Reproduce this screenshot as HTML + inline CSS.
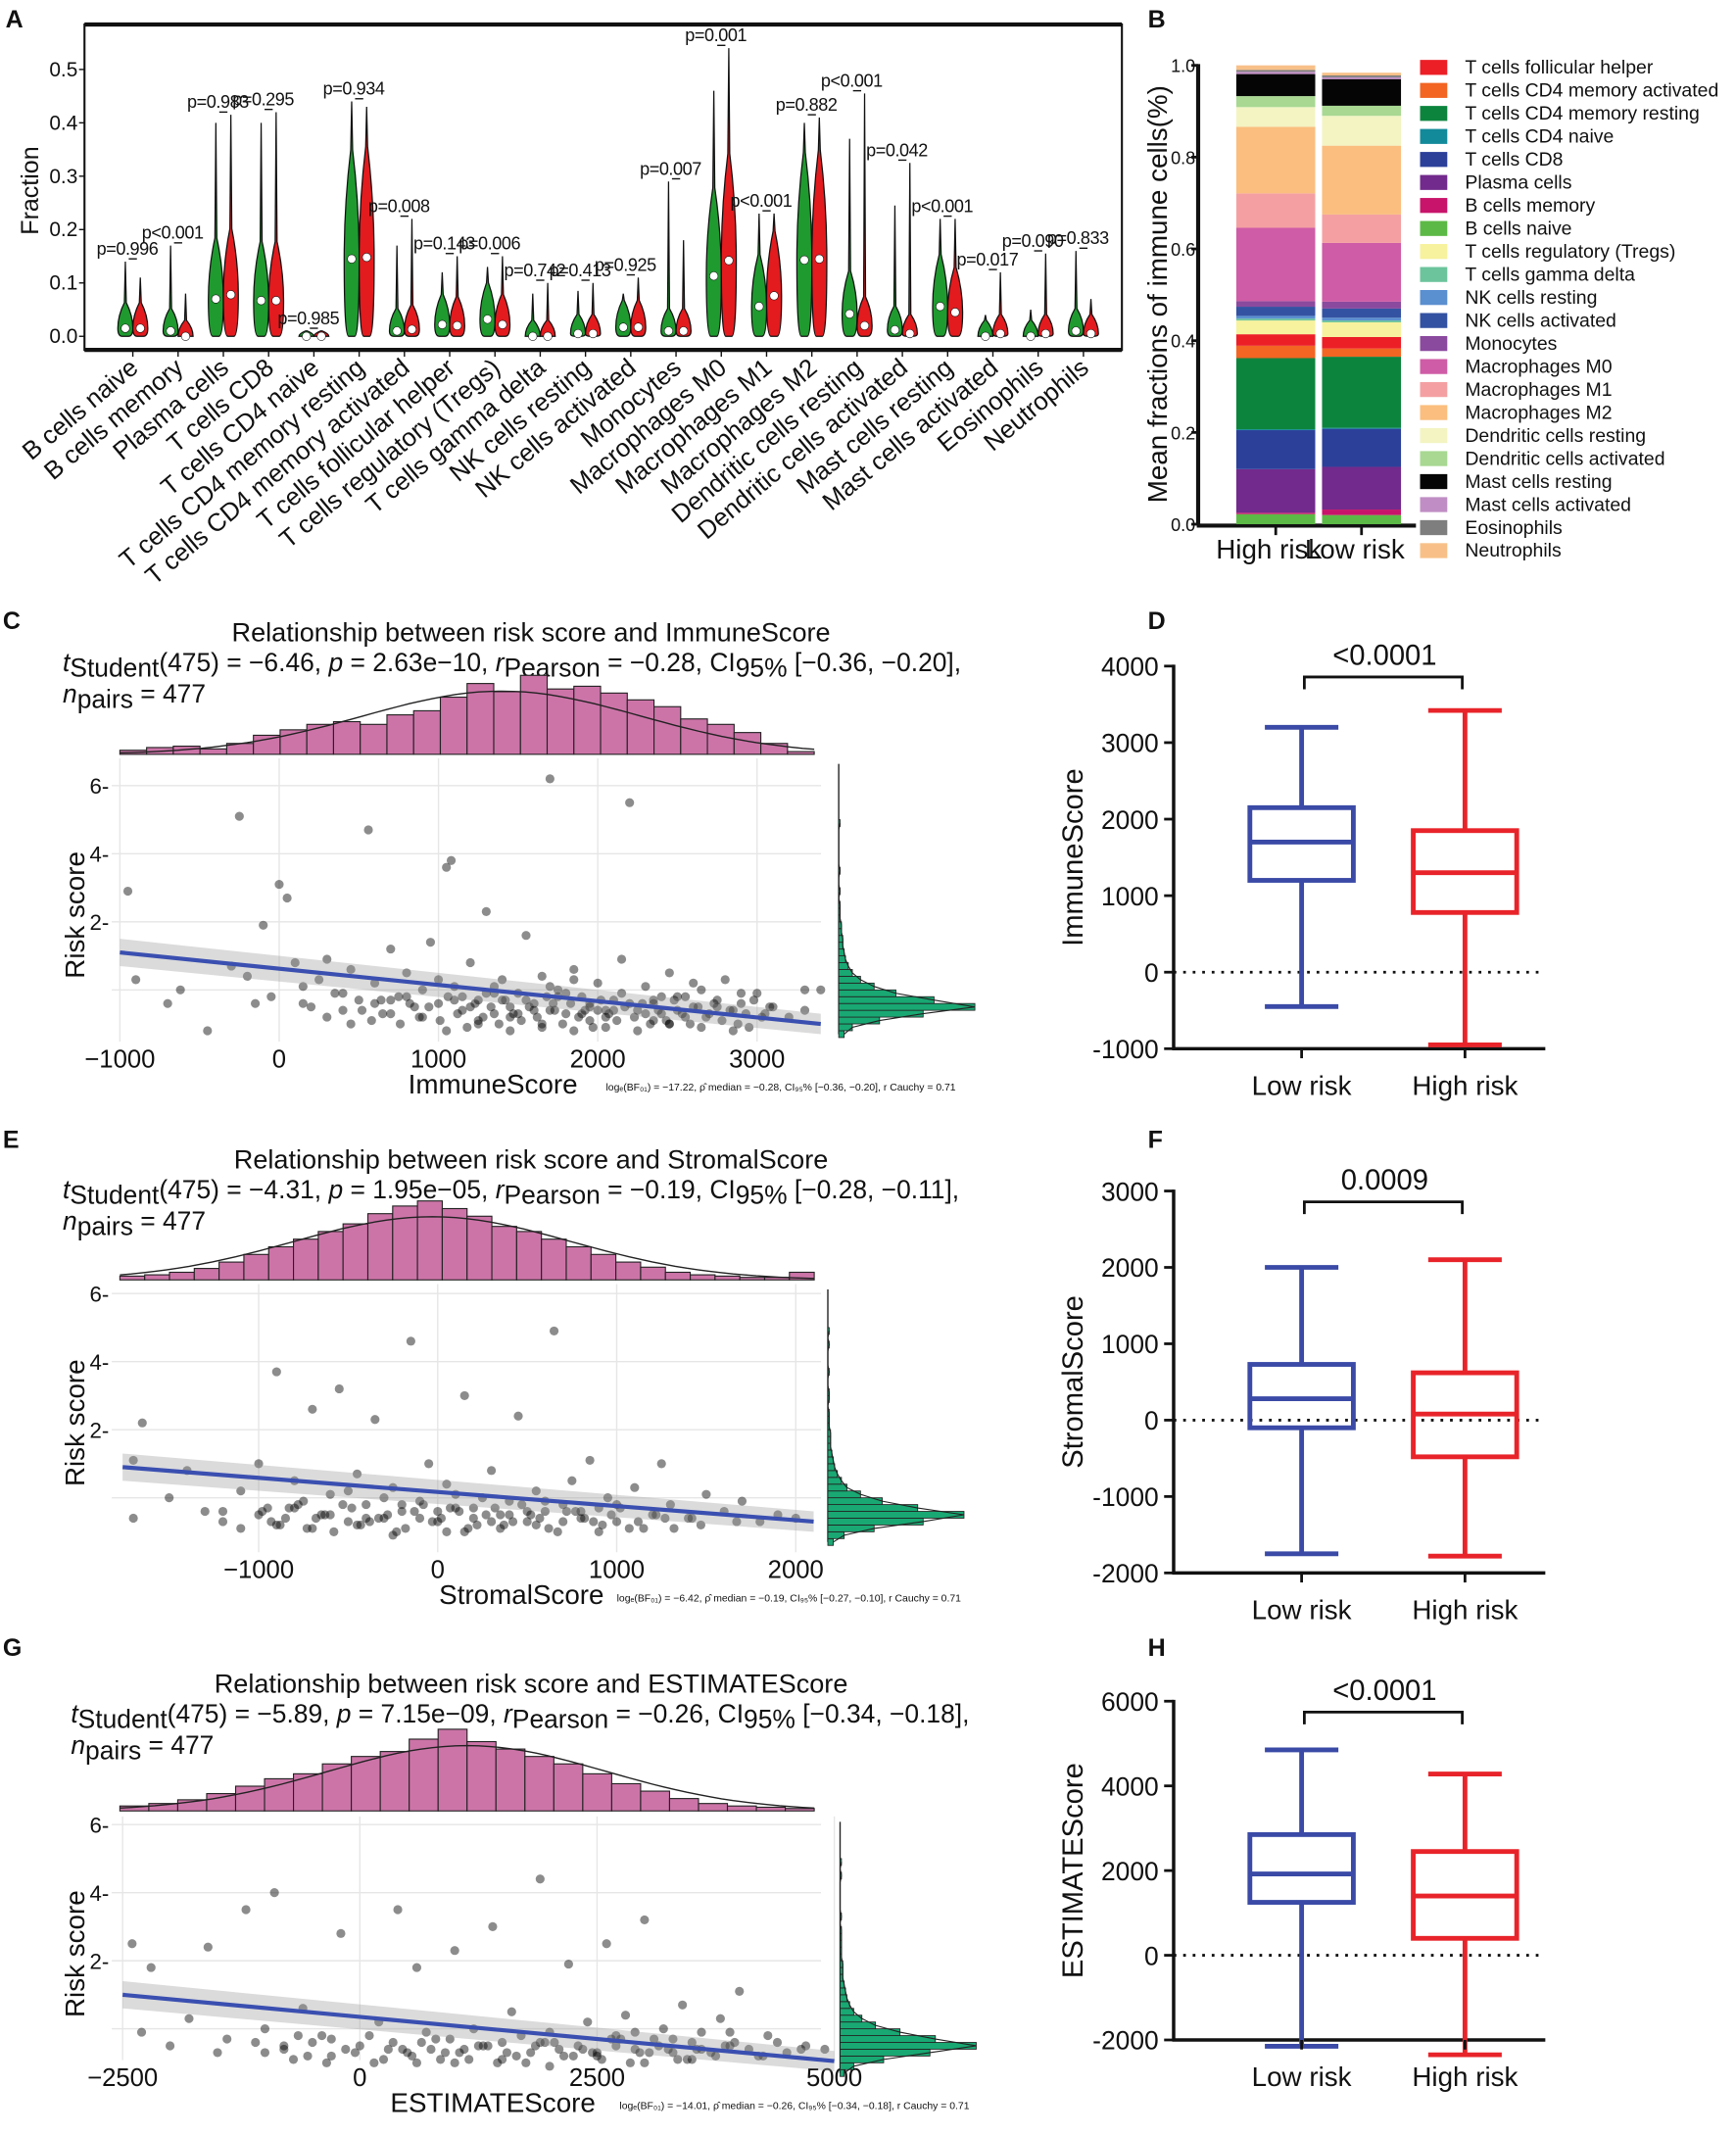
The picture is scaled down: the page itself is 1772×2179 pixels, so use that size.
<!DOCTYPE html>
<html><head><meta charset="utf-8"><style>
html,body{margin:0;padding:0;background:#fff}
svg{display:block}
text{font-family:"Liberation Sans",Arial,sans-serif;fill:#111}
</style></head><body>
<svg id="fig" xmlns="http://www.w3.org/2000/svg" width="1772" height="2179" viewBox="0 0 1275 1568">
<g font-weight="bold" font-size="18">
<text x="4" y="20">A</text>
<text x="843" y="20">B</text>
<text x="2" y="462">C</text>
<text x="843" y="462">D</text>
<text x="2" y="843">E</text>
<text x="843" y="843">F</text>
<text x="2" y="1216">G</text>
<text x="843" y="1216">H</text>
</g>
</svg>
<script>
// ---------- Panel A data ----------
const cellTypes = ["B cells naive","B cells memory","Plasma cells","T cells CD8","T cells CD4 naive","T cells CD4 memory resting","T cells CD4 memory activated","T cells follicular helper","T cells regulatory (Tregs)","T cells gamma delta","NK cells resting","NK cells activated","Monocytes","Macrophages M0","Macrophages M1","Macrophages M2","Dendritic cells resting","Dendritic cells activated","Mast cells resting","Mast cells activated","Eosinophils","Neutrophils"];
const lowMax = [0.14,0.17,0.40,0.40,0.01,0.44,0.17,0.12,0.13,0.08,0.085,0.08,0.29,0.46,0.23,0.40,0.37,0.245,0.22,0.04,0.05,0.16];
const lowMed = [0.015,0.01,0.07,0.067,0,0.145,0.01,0.022,0.032,0,0.005,0.017,0.01,0.113,0.056,0.143,0.042,0.012,0.056,0,0,0.01];
const highMax = [0.11,0.08,0.415,0.42,0.01,0.43,0.22,0.15,0.15,0.10,0.10,0.11,0.18,0.54,0.23,0.41,0.455,0.325,0.22,0.12,0.155,0.07];
const highMed = [0.015,0,0.078,0.067,0,0.148,0.013,0.02,0.022,0,0.005,0.017,0.01,0.142,0.076,0.145,0.02,0.005,0.045,0.005,0.005,0.005];
const pLabels = ["p=0.996","p<0.001","p=0.983","p=0.295","p=0.985","p=0.934","p=0.008","p=0.143","p=0.006","p=0.742","p=0.413","p=0.925","p=0.007","p=0.001","p<0.001","p=0.882","p<0.001","p=0.042","p<0.001","p=0.017","p=0.090","p=0.833"];
const fracTicks = [0,0.1,0.2,0.3,0.4,0.5];

// ---------- Panel B data ----------
const stackNames = ["B cells naive","B cells memory","Plasma cells","T cells CD8","T cells CD4 naive","T cells CD4 memory resting","T cells CD4 memory activated","T cells follicular helper","T cells regulatory (Tregs)","T cells gamma delta","NK cells resting","NK cells activated","Monocytes","Macrophages M0","Macrophages M1","Macrophages M2","Dendritic cells resting","Dendritic cells activated","Mast cells resting","Mast cells activated","Eosinophils","Neutrophils"];
const stackColors = ["#5cb946","#c8146a","#722a8c","#2c409a","#128a9a","#0d843e","#f26522","#ec1f27","#f7f29d","#6cc49c","#5a8fd0","#3452a2","#8a4a9e","#cf5ca6","#f4a0a2","#fbbe7e","#f3f4c2","#a8d892","#050505","#c08ec4","#7e7e7e","#f8c088"];
const highRiskFrac = [0.022,0.003,0.095,0.085,0.002,0.155,0.027,0.025,0.030,0.004,0.006,0.02,0.012,0.16,0.075,0.145,0.043,0.024,0.048,0.005,0.004,0.010];
const lowRiskFrac  = [0.020,0.012,0.093,0.083,0.002,0.155,0.018,0.025,0.032,0.004,0.006,0.02,0.015,0.128,0.062,0.150,0.065,0.022,0.058,0.004,0.004,0.006];
const legendOrder = ["T cells follicular helper","T cells CD4 memory activated","T cells CD4 memory resting","T cells CD4 naive","T cells CD8","Plasma cells","B cells memory","B cells naive","T cells regulatory (Tregs)","T cells gamma delta","NK cells resting","NK cells activated","Monocytes","Macrophages M0","Macrophages M1","Macrophages M2","Dendritic cells resting","Dendritic cells activated","Mast cells resting","Mast cells activated","Eosinophils","Neutrophils"];
const bTicks = [0,0.2,0.4,0.6,0.8,1.0];

// ---------- Scatter data ----------
const immuneX = [-950,-900,-700,-620,-450,-300,-250,-200,-150,-100,0,50,100,150,200,250,300,350,400,450,500,560,600,650,700,750,800,850,900,950,1000,1050,1080,1100,1150,1200,1250,1300,1350,1400,1450,1500,1550,1600,1650,1700,1720,1750,1800,1850,1900,1950,2000,2050,2100,2150,2200,2250,2300,2350,2400,2450,2500,2550,2600,2650,2700,2750,2800,2850,2900,2950,3000,3050,3100,3200,3300,3400,1200,1400,1600,1800,2000,2200,2400,1300,1500,1700,1900,2100,2300,2500,800,1000,600,400,1100,1700,2600,2900,3300,1350,1850,2750,1250,1450,1650,1950,2050,2350,2450,900,700,
  520,580,640,700,760,820,880,940,1010,1060,1120,1180,1230,1280,1330,1380,1420,1470,1520,1570,1620,1680,1730,1780,1830,1880,1920,1970,2020,2070,2120,2170,2230,2280,2330,2380,2430,2480,2530,2580,2630,2680,2730,2780,2830,2880,2930,2980,3030,3080,1150,1350,1550,1750,1950,2150,2350,2550,1050,1250,1450,1650,1850,2050,2250,2450,2650,2850,300,150,-50,450];
const immuneRisk = [2.9,0.3,-0.4,0.0,-1.2,0.7,5.1,0.4,-0.4,1.9,3.1,2.7,0.8,0.1,-0.5,0.3,0.9,-0.1,-0.6,0.6,-0.3,4.7,0.2,-0.7,1.2,-0.2,0.5,-0.5,0.0,1.4,-0.4,3.6,3.8,0.1,-0.6,0.8,-0.3,2.3,-0.7,0.3,-0.5,-0.1,1.6,-0.6,0.4,6.2,-0.4,0.0,-0.7,0.6,-0.2,-0.5,0.2,-0.8,-0.3,0.9,5.5,-0.6,0.1,-0.4,-0.7,0.5,-0.2,-0.8,-0.5,0.0,-0.7,-0.3,0.3,-0.6,-0.4,-1.1,-0.1,-0.7,-0.5,-0.8,-0.6,0.0,-0.5,-0.3,-0.4,-0.1,-0.6,-0.4,-0.2,-0.1,-0.7,-0.6,-0.7,-0.6,-0.7,-0.6,-0.2,0.3,-0.4,-0.1,-0.3,0.1,0.2,-0.1,0.0,0.1,0.3,-0.5,-0.9,-0.8,-1.0,-0.9,-0.6,-0.9,-1.0,-0.8,-0.3,
  -0.6,-0.9,-0.3,-0.7,-1.0,-0.4,-0.8,-0.5,-0.9,-0.2,-0.7,-1.1,-0.4,-0.8,-0.5,-1.0,-0.3,-0.7,-0.9,-0.5,-0.8,-0.2,-0.6,-1.0,-0.4,-0.8,-0.6,-1.1,-0.3,-0.7,-0.9,-0.5,-0.8,-0.4,-1.0,-0.6,-0.9,-0.3,-0.7,-1.0,-0.5,-0.8,-0.4,-0.9,-0.6,-1.0,-0.7,-0.3,-0.8,-0.5,-0.2,-0.1,-0.3,-0.2,-0.4,-0.1,-0.3,-0.2,-1.2,-1.0,-1.2,-1.1,-1.2,-1.1,-1.2,-1.0,-1.1,-1.2,-0.8,-0.4,-0.2,-1.0];
const immuneHist = [3,5,6,4,8,14,18,22,24,22,29,32,42,52,46,58,48,50,45,40,35,26,22,16,8,2];
const stromalX = [-1700,-1700,-1650,-1500,-1400,-1300,-1200,-1100,-1000,-950,-900,-850,-800,-750,-700,-650,-600,-550,-500,-450,-400,-350,-300,-250,-200,-150,-100,-50,0,50,100,150,200,250,300,350,400,450,500,550,600,650,700,750,800,850,900,950,1000,1100,1200,1250,1300,1400,1500,1600,1700,1800,1900,2000,-600,-400,-200,0,200,400,600,800,-800,-1000,100,300,-300,700,1000,-500,-100,500,-700,-900,150,350,550,900,1150,-250,-450,50,
  -980,-880,-780,-680,-580,-480,-380,-280,-180,-80,20,120,220,320,420,520,620,720,820,920,1020,1120,1220,1320,1420,-930,-830,-730,-630,-530,-430,-330,-230,-130,-30,70,170,270,370,470,570,670,770,870,970,1070,1270,1470,1670,-1200,-1100];
const stromalRisk = [1.1,-0.6,2.2,0.0,0.8,-0.4,-0.7,0.2,1.0,-0.3,3.7,-0.6,0.5,-0.1,2.6,-0.5,0.1,3.2,-0.7,0.7,-0.2,2.3,-0.6,0.3,-0.4,4.6,-0.1,1.0,-0.7,0.4,-0.3,3.0,-0.6,0.0,0.8,-0.5,-0.1,2.4,-0.7,0.2,-0.4,4.9,-0.2,0.5,-0.6,1.1,-0.3,0.0,-0.7,0.3,-0.5,1.0,-0.2,-0.6,0.1,-0.4,-0.1,-0.7,-0.5,-0.6,-0.5,-0.6,-0.2,-0.4,-0.3,-0.5,-0.1,-0.4,-0.3,-0.5,0.1,-0.7,0.0,-0.7,-0.2,0.2,-0.6,-0.4,-0.9,-0.8,-1.0,-0.9,-0.8,-1.0,-0.9,-1.1,-0.8,-1.0,
  -0.4,-0.8,-0.2,-0.6,-1.0,-0.3,-0.7,-0.5,-0.9,-0.2,-0.6,-0.4,-0.8,-0.3,-0.7,-0.5,-0.9,-0.4,-0.6,-0.8,-0.3,-0.7,-0.5,-0.9,-0.6,-0.7,-0.3,-0.9,-0.5,-0.2,-0.8,-0.6,-1.0,-0.4,-0.7,-0.3,-0.9,-0.5,-0.8,-0.2,-0.6,-1.0,-0.4,-0.7,-0.5,-0.9,-0.6,-0.8,-0.7,-0.4,-0.9];
const stromalHist = [3,4,6,9,14,20,26,32,38,44,52,58,62,56,50,42,38,32,26,20,14,10,6,4,3,2,2,6];
const estimateX = [-2400,-2300,-2200,-2000,-1800,-1600,-1400,-1200,-1000,-900,-800,-600,-400,-200,0,200,400,500,600,800,1000,1100,1200,1400,1500,1600,1800,1900,2000,2200,2300,2400,2500,2600,2700,2800,2900,3000,3100,3200,3300,3400,3500,3600,3700,3800,3900,4000,4100,4300,4500,4700,4900,-1500,-500,300,700,1300,1700,2100,2700,3300,3900,-1000,100,900,1900,2900,3600,4400,-700,1000,1500,2000,2500,3000,3500,4200,-300,600,
  -800,-550,-300,-50,150,350,550,750,950,1150,1350,1550,1750,1950,2150,2350,2550,2750,2950,3150,3350,3550,3750,3950,-650,-150,250,650,1050,1450,1850,2250,2650,3050,3450,3850,4250,4650,-1100,-350,450,850,1250,1650,2050,2450,2850,3250];
const estimateRisk = [2.5,-0.1,1.8,-0.5,0.3,2.4,-0.3,3.5,0.0,4.0,-0.6,0.6,-0.2,2.8,-0.5,0.2,3.5,-0.7,1.8,-0.3,2.3,-0.6,0.0,3.0,-0.4,0.5,-0.7,4.4,-0.1,1.9,-0.5,0.2,-0.7,2.5,-0.2,0.4,-0.6,3.2,-0.3,0.0,-0.7,0.7,-0.4,-0.1,-0.7,0.3,-0.5,1.1,-0.6,-0.2,-0.7,-0.5,-0.6,-0.7,-0.4,-0.6,-0.1,-0.5,-0.2,-0.6,-0.5,-0.3,-0.1,-0.7,-0.2,-0.7,-0.4,-0.1,-0.6,-0.4,-0.9,-1.0,-0.9,-1.1,-0.8,-1.0,-0.9,-0.8,-0.8,-1.0,
  -0.5,-0.8,-0.3,-0.7,-1.0,-0.4,-0.8,-0.6,-0.3,-0.9,-0.5,-0.7,-1.0,-0.4,-0.8,-0.6,-0.9,-0.3,-0.7,-0.5,-0.9,-0.6,-0.8,-0.4,-0.2,-0.6,-0.9,-0.4,-0.7,-1.0,-0.5,-0.8,-0.3,-0.7,-0.9,-0.5,-0.8,-0.6,-0.4,-1.0,-0.6,-0.9,-0.5,-0.8,-0.4,-0.7,-1.0,-0.6];
const estimateHist = [4,6,9,14,20,26,30,38,44,48,58,66,56,50,44,38,30,22,16,10,6,4,3,2];
const riskHistC = [4,10,30,62,100,70,42,26,16,10,7,5,4,3,3,2,2,1,1,1,0,1,0,0,1,0,0,0,0,0,0,1];
const riskHistE = [4,12,34,70,100,66,40,24,14,10,7,5,4,3,2,2,2,1,1,1,0,1,1,0,0,1,0,0,0,1,0,1];
const riskHistG = [3,10,32,66,100,70,44,26,16,10,7,5,4,3,2,2,2,1,1,1,1,1,0,1,0,0,0,0,0,1,0,1];
const immuneTicks = [-1000,0,1000,2000,3000];
const stromalTicks = [-1000,0,1000,2000];
const estimateTicks = [-2500,0,2500,5000];
const riskTicks = [2,4,6];

// ---------- Box plot data ----------
const boxGroups = ["Low risk","High risk"];
const immuneBox = [[-450,1200,1700,2150,3200],[-950,780,1300,1850,3420]];
const stromalBox = [[-1750,-100,280,730,2000],[-1780,-480,80,620,2100]];
const estimateBox = [[-2150,1250,1920,2850,4850],[-2350,400,1400,2450,4280]];
const immuneBoxTicks = [-1000,0,1000,2000,3000,4000];
const stromalBoxTicks = [-2000,-1000,0,1000,2000,3000];
const estimateBoxTicks = [-2000,0,2000,4000,6000];

const NS = "http://www.w3.org/2000/svg";
const svg = document.getElementById('fig');
function add(parent, tag, attrs, name, inter) {
  const el = document.createElementNS(NS, tag);
  for (const k in attrs) el.setAttribute(k, attrs[k]);
  
  
  parent.appendChild(el);
  return el;
}
function txt(parent, x, y, s, size, name, extra) {
  const t = add(parent, 'text', Object.assign({x: x, y: y, 'font-size': size}, extra || {}), name, false);
  t.textContent = s;
  return t;
}

// ================= PANEL A =================
(function () {
  const g = add(svg, 'g', {}, 'panel-a-violin-chart', false);
  const yA = v => 247 - v * 392;
  const cx = i => 97.5 + i * 33.25;
  add(g, 'rect', {x: 62, y: 18, width: 762, height: 239, fill: 'none', stroke: '#111', 'stroke-width': 1.5}, 'plot-frame', false);
  add(g, 'line', {x1: 62, y1: 18, x2: 824, y2: 18, stroke: '#111', 'stroke-width': 3}, 'plot-top-border', false);
  add(g, 'line', {x1: 62, y1: 257, x2: 824, y2: 257, stroke: '#111', 'stroke-width': 3}, 'plot-bottom-border', false);
  fracTicks.forEach(v => {
    txt(g, 57, yA(v) + 5, v.toFixed(1), 15, 'y-tick-label', {'text-anchor': 'end'});
    add(g, 'line', {x1: 58, x2: 62, y1: yA(v), y2: yA(v), stroke: '#111'}, 'y-tick', false);
  });
  txt(g, 28, 140, 'Fraction', 18, 'y-axis-title', {transform: 'rotate(-90 28 140)', 'text-anchor': 'middle'});
  function violin(x, max, med, color, name) {
    const hw = 5.5;
    const y1 = yA(max), y0 = yA(0), ym = yA(med);
    const y2 = Math.max(y1, yA(Math.min(max, med * 2.2 + 0.03)));
    const d = `M${x},${y1} L${x + 0.7},${y2} Q${x + hw},${(y2 + ym) / 2} ${x + hw},${ym} Q${x + hw},${y0} ${x + hw * 0.4},${y0} L${x - hw * 0.4},${y0} Q${x - hw},${y0} ${x - hw},${ym} Q${x - hw},${(y2 + ym) / 2} ${x - 0.7},${y2} Z`;
    add(g, 'path', {d: d, fill: color, stroke: '#111', 'stroke-width': 0.9}, name, false);
    add(g, 'circle', {cx: x, cy: ym, r: 3.1, fill: '#fff', stroke: '#111', 'stroke-width': 0.4}, name + '-median', false);
  }
  cellTypes.forEach((c, i) => {
    violin(cx(i) - 5.5, lowMax[i], lowMed[i], '#1f9a2f', 'violin-low-risk');
    violin(cx(i) + 5.5, highMax[i], highMed[i], '#e31b1e', 'violin-high-risk');
    const top = yA(Math.max(lowMax[i], highMax[i]));
    add(g, 'line', {x1: cx(i) - 3, x2: cx(i) + 3, y1: top - 2, y2: top - 2, stroke: '#111'}, 'p-bracket', false);
    txt(g, cx(i) - 4, top - 5, pLabels[i], 13, 'p-value-label', {'text-anchor': 'middle', 'letter-spacing': '-0.3'});
    add(g, 'line', {x1: cx(i), x2: cx(i), y1: 257, y2: 262, stroke: '#111'}, 'x-tick', false);
    txt(g, cx(i) + 5, 272, c, 18.5, 'x-tick-label', {'text-anchor': 'end', transform: `rotate(-40 ${cx(i) + 5} 272)`});
  });
})();

// ================= PANEL B =================
(function () {
  const g = add(svg, 'g', {}, 'panel-b-stacked-bar', false);
  const yB = v => 385 - v * 337;
  add(g, 'line', {x1: 880, x2: 880, y1: 47, y2: 386, stroke: '#111', 'stroke-width': 3}, 'y-axis-line', false);
  add(g, 'line', {x1: 879, x2: 1040, y1: 386, y2: 386, stroke: '#111', 'stroke-width': 3}, 'x-axis-line', false);
  bTicks.forEach(v => {
    add(g, 'line', {x1: 875, x2: 880, y1: yB(v), y2: yB(v), stroke: '#111', 'stroke-width': 2}, 'y-tick', false);
    txt(g, 878, yB(v) + 5, v.toFixed(1), 13, 'y-tick-label', {'text-anchor': 'end'});
  });
  txt(g, 857, 216, 'Mean fractions of immune cells(%)', 20, 'y-axis-title', {transform: 'rotate(-90 857 216)', 'text-anchor': 'middle'});
  [[highRiskFrac, 937, 'High risk'], [lowRiskFrac, 1000, 'Low risk']].forEach(([arr, x, lab]) => {
    let cum = 0;
    arr.forEach((v, i) => {
      add(g, 'rect', {x: x - 29, y: yB(cum + v), width: 58, height: v * 337, fill: stackColors[i]}, 'bar-segment-' + stackNames[i].toLowerCase().replace(/[^a-z0-9]+/g, '-'), false);
      cum += v;
    });
    add(g, 'line', {x1: x, x2: x, y1: 386, y2: 393, stroke: '#111', 'stroke-width': 2}, 'x-tick', false);
    txt(g, x - 5, 410, lab, 20, 'x-tick-label', {'text-anchor': 'middle'});
  });
  legendOrder.forEach((n, i) => {
    const y = 49 + i * 16.9;
    add(g, 'rect', {x: 1043, y: y - 5, width: 20, height: 11, fill: stackColors[stackNames.indexOf(n)]}, 'legend-swatch', false);
    txt(g, 1076, y + 5, n, 14, 'legend-entry');
  });
})();

// ================= SCATTER PANELS =================
function scatterPanel(cfg) {
  const g = add(svg, 'g', {}, cfg.name, false);
  const X = v => cfg.x0 + (v - cfg.xmin) * cfg.kx;
  const Y = v => cfg.yZero - v * 25;
  txt(g, 390, cfg.titleY, cfg.title, 19.5, 'chart-title', {'text-anchor': 'middle'});
  const st = add(g, 'text', {x: cfg.statX, y: cfg.titleY + 22, 'font-size': 19}, 'stats-subtitle', false);
  st.innerHTML = '<tspan font-style="italic">t</tspan><tspan dy="4">Student</tspan><tspan dy="-4">' + cfg.stat1 + ', </tspan><tspan font-style="italic">p</tspan><tspan> = ' + cfg.stat2 + ', </tspan><tspan font-style="italic">r</tspan><tspan dy="4">Pearson</tspan><tspan dy="-4"> = ' + cfg.stat3 + ', CI</tspan><tspan dy="4">95%</tspan><tspan dy="-4"> ' + cfg.stat4 + '</tspan>';
  const np = add(g, 'text', {x: cfg.statX, y: cfg.titleY + 45, 'font-size': 19}, 'n-pairs', false);
  np.innerHTML = '<tspan font-style="italic">n</tspan><tspan dy="4">pairs</tspan><tspan dy="-4"> = 477</tspan>';
  const hb = cfg.histBase, n = cfg.hist.length, bw = 510 / n;
  const hmax = Math.max(...cfg.hist);
  let curve = '';
  cfg.hist.forEach((c, i) => {
    const h = c / hmax * cfg.histH;
    add(g, 'rect', {x: 88 + i * bw, y: hb - h, width: bw, height: h, fill: '#cc74a8', stroke: '#222', 'stroke-width': 0.8}, 'histogram-bar', false);
  });
  for (let i = 0; i <= 60; i++) {
    const t = i / 60, xx = 88 + t * 510;
    const h = Math.exp(-Math.pow((t - cfg.peak) / 0.2, 2) / 2) * cfg.histH * 0.8;
    curve += (i ? 'L' : 'M') + xx.toFixed(1) + ',' + (hb - h).toFixed(1);
  }
  add(g, 'path', {d: curve, fill: 'none', stroke: '#222', 'stroke-width': 1}, 'density-curve', false);
  const pTop = cfg.panelTop, pBot = cfg.panelBot;
  cfg.ticks.forEach(v => {
    add(g, 'line', {x1: X(v), x2: X(v), y1: pTop, y2: pBot, stroke: '#e6e6e6'}, 'x-gridline', false);
    txt(g, X(v), pBot + 19, v < 0 ? '\u2212' + (-v) : String(v), 18.5, 'x-tick-label', {'text-anchor': 'middle'});
  });
  [0].concat(riskTicks).forEach(v => {
    add(g, 'line', {x1: 82, x2: 603, y1: Y(v), y2: Y(v), stroke: '#e6e6e6'}, 'y-gridline', false);
  });
  riskTicks.forEach(v => txt(g, 80, Y(v) + 6, v + '-', 16, 'y-tick-label', {'text-anchor': 'end'}));
  txt(g, 62, cfg.yZero - 55, 'Risk score', 20, 'y-axis-title', {transform: `rotate(-90 62 ${cfg.yZero - 55})`, 'text-anchor': 'middle'});
  txt(g, cfg.xTitleX, pBot + 38, cfg.xTitle, 20, 'x-axis-title', {'text-anchor': 'middle'});
  txt(g, cfg.noteX, pBot + 36, cfg.note, 7.5, 'bayes-caption');
  cfg.xs.forEach((v, i) => {
    add(g, 'circle', {cx: X(v), cy: Y(cfg.ys[i]), r: 3.3, fill: '#000', 'fill-opacity': 0.45}, 'data-point', false);
  });
  const xa = cfg.xmin, xb = cfg.xmax;
  const ya = cfg.reg[0], yb = cfg.reg[1];
  add(g, 'polygon', {points: `${X(xa)},${Y(ya + 0.4)} ${X(xb)},${Y(yb + 0.3)} ${X(xb)},${Y(yb - 0.3)} ${X(xa)},${Y(ya - 0.4)}`, fill: '#999', 'fill-opacity': 0.35}, 'confidence-band', false);
  add(g, 'line', {x1: X(xa), y1: Y(ya), x2: X(xb), y2: Y(yb), stroke: '#3a4fb0', 'stroke-width': 3}, 'regression-line', false);
  const rb = cfg.rBase;
  add(g, 'line', {x1: rb, x2: rb, y1: pTop + 4, y2: Y(-1.3), stroke: '#222', 'stroke-width': 1}, 'marginal-axis', false);
  let rc = '';
  cfg.rHist.forEach((c, i) => {
    const r0 = -1.4 + i * 0.2;
    const len = c;
    if (len > 0) add(g, 'rect', {x: rb, y: Y(r0 + 0.2), width: len, height: 5, fill: '#19a873', stroke: '#222', 'stroke-width': 0.6}, 'marginal-histogram-bar', false);
    rc += (i ? 'L' : 'M') + (rb + len).toFixed(1) + ',' + Y(r0 + 0.1).toFixed(1);
  });
  add(g, 'path', {d: rc, fill: 'none', stroke: '#222', 'stroke-width': 0.8}, 'marginal-density', false);
}

scatterPanel({name: 'panel-c-immune-scatter', title: 'Relationship between risk score and ImmuneScore', titleY: 471, statX: 46,
  stat1: '(475) = \u22126.46', stat2: '2.63e\u221210', stat3: '\u22120.28', stat4: '[\u22120.36, \u22120.20],',
  histBase: 554, histH: 58, peak: 0.55, hist: immuneHist, panelTop: 557, panelBot: 765,
  x0: 88, xmin: -1000, xmax: 3400, kx: 0.117, yZero: 727, ticks: immuneTicks, xs: immuneX, ys: immuneRisk,
  reg: [1.1, -1.0], rBase: 616, rHist: riskHistC, xTitle: 'ImmuneScore', xTitleX: 362,
  noteX: 445, note: 'log\u2091(BF\u2080\u2081) = \u221217.22, \u03c1\u0302 median = \u22120.28, CI\u2089\u2085\u0025 [\u22120.36, \u22120.20], r Cauchy = 0.71'});
scatterPanel({name: 'panel-e-stromal-scatter', title: 'Relationship between risk score and StromalScore', titleY: 858, statX: 46,
  stat1: '(475) = \u22124.31', stat2: '1.95e\u221205', stat3: '\u22120.19', stat4: '[\u22120.28, \u22120.11],',
  histBase: 940, histH: 58, peak: 0.45, hist: stromalHist, panelTop: 943, panelBot: 1140,
  x0: 90, xmin: -1760, xmax: 2100, kx: 0.1315, yZero: 1100, ticks: stromalTicks, xs: stromalX, ys: stromalRisk,
  reg: [0.9, -0.7], rBase: 608, rHist: riskHistE, xTitle: 'StromalScore', xTitleX: 383,
  noteX: 453, note: 'log\u2091(BF\u2080\u2081) = \u22126.42, \u03c1\u0302 median = \u22120.19, CI\u2089\u2085\u0025 [\u22120.27, \u22120.10], r Cauchy = 0.71'});
scatterPanel({name: 'panel-g-estimate-scatter', title: 'Relationship between risk score and ESTIMATEScore', titleY: 1243, statX: 52,
  stat1: '(475) = \u22125.89', stat2: '7.15e\u221209', stat3: '\u22120.26', stat4: '[\u22120.34, \u22120.18],',
  histBase: 1330, histH: 60, peak: 0.5, hist: estimateHist, panelTop: 1334, panelBot: 1513,
  x0: 90, xmin: -2500, xmax: 5000, kx: 0.0697, yZero: 1490, ticks: estimateTicks, xs: estimateX, ys: estimateRisk,
  reg: [1.0, -0.95], rBase: 617, rHist: riskHistG, xTitle: 'ESTIMATEScore', xTitleX: 362,
  noteX: 455, note: 'log\u2091(BF\u2080\u2081) = \u221214.01, \u03c1\u0302 median = \u22120.26, CI\u2089\u2085\u0025 [\u22120.34, \u22120.18], r Cauchy = 0.71'});

// ================= BOX PANELS =================
function boxPanel(cfg) {
  const g = add(svg, 'g', {}, cfg.name, false);
  const Y = v => cfg.y0 - v * cfg.k;
  const yTop = Y(cfg.ticks[cfg.ticks.length - 1]), yBot = Y(cfg.ticks[0]);
  add(g, 'line', {x1: 862, x2: 862, y1: yTop - 1, y2: yBot + 1, stroke: '#111', 'stroke-width': 2.5}, 'y-axis-line', false);
  add(g, 'line', {x1: 861, x2: 1135, y1: yBot, y2: yBot, stroke: '#111', 'stroke-width': 2.5}, 'x-axis-line', false);
  cfg.ticks.forEach(v => {
    add(g, 'line', {x1: 855, x2: 862, y1: Y(v), y2: Y(v), stroke: '#111', 'stroke-width': 2}, 'y-tick', false);
    txt(g, 851, Y(v) + 7, String(v), 19, 'y-tick-label', {'text-anchor': 'end'});
  });
  const ym = (yTop + yBot) / 2;
  txt(g, 795, ym, cfg.yTitle, 21, 'y-axis-title', {transform: `rotate(-90 795 ${ym})`, 'text-anchor': 'middle'});
  add(g, 'line', {x1: 862, x2: 1135, y1: Y(0), y2: Y(0), stroke: '#111', 'stroke-width': 2, 'stroke-dasharray': '2,5'}, 'zero-reference-line', false);
  const cols = ['#3a4aa6', '#e8242a'];
  [956, 1076].forEach((cx, i) => {
    const b = cfg.data[i], c = cols[i];
    add(g, 'line', {x1: cx, x2: cx, y1: Y(b[0]), y2: Y(b[1]), stroke: c, 'stroke-width': 3.5}, 'whisker-lower', false);
    add(g, 'line', {x1: cx, x2: cx, y1: Y(b[3]), y2: Y(b[4]), stroke: c, 'stroke-width': 3.5}, 'whisker-upper', false);
    add(g, 'line', {x1: cx - 27, x2: cx + 27, y1: Y(b[0]), y2: Y(b[0]), stroke: c, 'stroke-width': 3.5}, 'whisker-cap', false);
    add(g, 'line', {x1: cx - 27, x2: cx + 27, y1: Y(b[4]), y2: Y(b[4]), stroke: c, 'stroke-width': 3.5}, 'whisker-cap', false);
    add(g, 'rect', {x: cx - 38, y: Y(b[3]), width: 76, height: Y(b[1]) - Y(b[3]), fill: 'none', stroke: c, 'stroke-width': 3.5}, 'box-iqr', false);
    add(g, 'line', {x1: cx - 38, x2: cx + 38, y1: Y(b[2]), y2: Y(b[2]), stroke: c, 'stroke-width': 3.5}, 'box-median', false);
    add(g, 'line', {x1: cx, x2: cx, y1: yBot, y2: yBot + 7, stroke: '#111', 'stroke-width': 2}, 'x-tick', false);
    txt(g, cx, yBot + 34, boxGroups[i], 20, 'x-tick-label', {'text-anchor': 'middle'});
  });
  const by = yTop + 8;
  add(g, 'path', {d: `M958,${by + 9} V${by} H1074 V${by + 9}`, fill: 'none', stroke: '#111', 'stroke-width': 2}, 'significance-bracket', false);
  txt(g, 1017, by - 9, cfg.p, 21, 'p-value-label', {'text-anchor': 'middle'});
}
boxPanel({name: 'panel-d-immune-box', y0: 714, k: 0.0562, ticks: immuneBoxTicks, data: immuneBox, yTitle: 'ImmuneScore', p: '<0.0001'});
boxPanel({name: 'panel-f-stromal-box', y0: 1043, k: 0.0561, ticks: stromalBoxTicks, data: stromalBox, yTitle: 'StromalScore', p: '0.0009'});
boxPanel({name: 'panel-h-estimate-box', y0: 1436, k: 0.0311, ticks: estimateBoxTicks, data: estimateBox, yTitle: 'ESTIMATEScore', p: '<0.0001'});
</script>
</body></html>
